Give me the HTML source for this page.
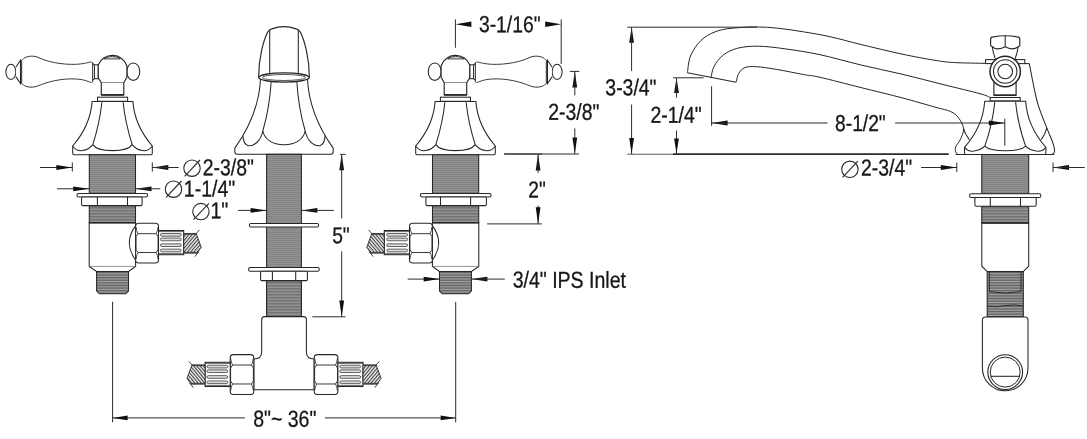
<!DOCTYPE html>
<html><head><meta charset="utf-8"><title>Faucet dimensions</title>
<style>
html,body{margin:0;padding:0;background:#fff;}
body{width:1088px;height:439px;overflow:hidden;position:relative;}
svg{position:absolute;left:0;top:0;display:block;}
text{font-family:"Liberation Sans",sans-serif;fill:#161616;stroke:#161616;stroke-width:0.3px;}
svg{will-change:transform;}
</style></head><body>
<svg width="1088" height="439" viewBox="0 0 1088 439">
<defs>
<pattern id="thr" width="4" height="2" patternUnits="userSpaceOnUse"><rect width="4" height="2" fill="#929292"/><rect y="0" width="4" height="1" fill="#838383"/></pattern>
<pattern id="thr3" width="4" height="1.5" patternUnits="userSpaceOnUse"><rect width="4" height="1.5" fill="#9a9a9a"/><rect y="0" width="4" height="0.75" fill="#6c6c6c"/></pattern>
<pattern id="thr2" width="4" height="1.62" patternUnits="userSpaceOnUse"><rect width="4" height="1.62" fill="#a2a2a2"/><rect y="0" width="4" height="0.8" fill="#5e5e5e"/></pattern>
<pattern id="hatm" width="2.5" height="2.5" patternUnits="userSpaceOnUse" patternTransform="rotate(-40)"><rect width="2.5" height="2.5" fill="#f4f4f4"/><rect width="1.1" height="2.5" fill="#3c3c3c"/></pattern>
<pattern id="hat" width="2.5" height="2.5" patternUnits="userSpaceOnUse" patternTransform="rotate(40)"><rect width="2.5" height="2.5" fill="#f4f4f4"/><rect width="1.1" height="2.5" fill="#3c3c3c"/></pattern>
</defs>
<rect x="0" y="0" width="1088" height="439" fill="#fff"/>
<rect x="1087" y="0" width="1" height="439" fill="#cfcfcf"/>

<g transform="translate(0.00,0)">
<ellipse cx="10.90" cy="71.90" rx="5.00" ry="7.60" fill="#fff" stroke="#262626" stroke-width="1.05"/>
<path d="M16.0,67.0 L20.5,60.2 L20.5,83.5 L16.0,76.9" fill="#fff" stroke="#262626" stroke-width="1.05" />
<line x1="21.70" y1="60.40" x2="21.70" y2="83.30" stroke="#262626" stroke-width="0.9"/>
<path d="M21.70,60.20 C22.42,59.70 24.27,57.88 26.00,57.20 C27.73,56.52 30.10,56.08 32.10,56.10 C34.10,56.12 35.83,56.62 38.00,57.30 C40.17,57.98 42.33,59.32 45.10,60.20 C47.87,61.08 51.18,61.95 54.60,62.60 C58.02,63.25 61.95,63.82 65.60,64.10 C69.25,64.38 73.32,64.43 76.50,64.30 C79.68,64.17 82.35,63.68 84.70,63.30 C87.05,62.92 89.28,62.12 90.60,62.00 C91.92,61.88 92.27,62.50 92.60,62.60 L92.60,81.80 C92.30,81.90 92.12,82.65 90.80,82.40 C89.48,82.15 87.08,80.87 84.70,80.30 C82.32,79.73 79.68,79.20 76.50,79.00 C73.32,78.80 69.25,78.82 65.60,79.10 C61.95,79.38 58.02,80.02 54.60,80.70 C51.18,81.38 47.87,82.33 45.10,83.20 C42.33,84.07 40.17,85.23 38.00,85.90 C35.83,86.57 34.10,87.13 32.10,87.20 C30.10,87.27 27.73,86.92 26.00,86.30 C24.27,85.68 22.42,83.97 21.70,83.50 Z" fill="#fff" stroke="#3a3a3a" stroke-width="1.0" />
<rect x="94.40" y="64.80" width="3.90" height="13.90" rx="0" fill="#fff" stroke="#262626" stroke-width="1.05"/>
<line x1="92.60" y1="63.50" x2="94.40" y2="64.80" stroke="#262626" stroke-width="1.05"/>
<line x1="92.60" y1="80.50" x2="94.40" y2="78.70" stroke="#262626" stroke-width="1.05"/>
<ellipse cx="133.30" cy="71.70" rx="6.50" ry="8.70" fill="#fff" stroke="#262626" stroke-width="1.05"/>
<path d="M98.3,64.8 A15.3,15.3 0 0 1 126.9,65.8 L126.9,77.4 L123.9,82.5 L101.2,82.5 L98.3,78.0 Z" fill="#fff" stroke="#262626" stroke-width="1.15" />
<path d="M104.1,58.9 L120.3,58.9" fill="none" stroke="#262626" stroke-width="0.9" />
<path d="M104.1,58.9 Q112.3,53.9 120.3,58.9" fill="#888" stroke="#262626" stroke-width="0.8" fill-opacity="0.35"/>
<path d="M101.3,82.5 L101.3,94.9 L123.8,94.9 L123.8,82.5" fill="#fff" stroke="#262626" stroke-width="1.15" />
<line x1="101.30" y1="94.90" x2="123.80" y2="94.90" stroke="#262626" stroke-width="1.6"/>
<rect x="97.50" y="97.20" width="30.10" height="4.10" rx="0" fill="#fff" stroke="#262626" stroke-width="1.05"/>
<path d="M92.10,101.40 C91.20,115.23 85.70,130.84 72.70,146.00 L72.70,153.20 Q72.70,154.70 74.20,154.70 L150.80,154.70 Q152.30,154.70 152.30,153.20 L152.30,146.00 C139.30,130.84 133.80,115.23 132.90,101.40 Z" fill="#fff" stroke="#262626" stroke-width="1.05" />
<path d="M101.90,102.20 Q99.70,123.00 92.80,144.60" fill="none" stroke="#262626" stroke-width="1.05" />
<path d="M123.10,102.20 Q125.30,123.00 132.20,144.60" fill="none" stroke="#262626" stroke-width="1.05" />
<path d="M92.80,144.60 C95.80,149.10 104.50,150.60 112.50,150.60 C120.50,150.60 129.20,149.10 132.20,144.60" fill="none" stroke="#262626" stroke-width="1.05" />
<path d="M72.7,146.0 C75.5,150.0 79,151.2 82.5,150.6 C86.5,150 90.5,147.5 92.8,144.6" fill="none" stroke="#262626" stroke-width="1.05" />
<path d="M152.3,146.0 C149.5,150.0 146,151.2 142.5,150.6 C138.5,150 134.5,147.5 132.2,144.6" fill="none" stroke="#262626" stroke-width="1.05" />
<rect x="89.30" y="154.70" width="46.20" height="38.70" fill="url(#thr)" stroke="#262626" stroke-width="1.05"/>
<rect x="89.30" y="205.60" width="46.20" height="17.20" fill="url(#thr3)" stroke="#262626" stroke-width="1.05"/>
<rect x="77.00" y="193.40" width="70.60" height="3.60" rx="1.5" fill="#fff" stroke="#262626" stroke-width="1.05"/>
<rect x="81.60" y="197.00" width="60.50" height="8.60" rx="1.2" fill="#fff" stroke="#262626" stroke-width="1.05"/>
<line x1="97.40" y1="197.00" x2="97.40" y2="205.60" stroke="#262626" stroke-width="1.05"/>
<line x1="127.50" y1="197.00" x2="127.50" y2="205.60" stroke="#262626" stroke-width="1.05"/>
<path d="M89.2,222.8 L89.2,266.4 L96.6,271.4 L128.5,271.4 L135.6,266.4 L135.6,222.8 Z" fill="#fff" stroke="#262626" stroke-width="1.05" />
<line x1="89.20" y1="266.40" x2="135.60" y2="266.40" stroke="#666" stroke-width="0.7"/>
<line x1="89.20" y1="222.80" x2="135.60" y2="222.80" stroke="#262626" stroke-width="1.3"/>
<path d="M96.6,271.4 L96.6,291.0 L99.4,293.8 L125.7,293.8 L128.5,291.0 L128.5,271.4 Z" fill="url(#thr2)" stroke="#262626" stroke-width="1.05" />
<path d="M135.6,225.6 Q123.0,242.8 135.6,260.0" fill="#fff" stroke="#262626" stroke-width="1.05" />
<rect x="135.60" y="223.30" width="22.90" height="39.60" rx="3.2" fill="#fff" stroke="#262626" stroke-width="1.05"/>
<path d="M138.00,233.68 L156.10,233.68 L158.10,236.68 L158.10,249.52 L156.10,252.52 L138.00,252.52 L136.00,249.52 L136.00,236.68 Z" fill="none" stroke="#262626" stroke-width="0.9" />
<path d="M138.00,233.68 Q136.40,231.18 136.10,227.00" fill="none" stroke="#262626" stroke-width="0.8" />
<path d="M156.10,233.68 Q157.70,231.18 158.00,227.00" fill="none" stroke="#262626" stroke-width="0.8" />
<path d="M138.00,252.52 Q136.40,255.02 136.10,259.20" fill="none" stroke="#262626" stroke-width="0.8" />
<path d="M156.10,252.52 Q157.70,255.02 158.00,259.20" fill="none" stroke="#262626" stroke-width="0.8" />
<rect x="158.50" y="230.50" width="25.20" height="24.20" rx="0" fill="#fff" stroke="#262626" stroke-width="1.05"/>
<line x1="158.50" y1="231.60" x2="183.70" y2="231.60" stroke="#262626" stroke-width="0.7"/>
<line x1="158.50" y1="253.60" x2="183.70" y2="253.60" stroke="#262626" stroke-width="0.7"/>
<rect x="160.40" y="233.46" width="20.90" height="2.7" rx="1.35" fill="#dcdcdc" stroke="#3c3c3c" stroke-width="0.8"/>
<rect x="160.40" y="238.06" width="20.90" height="2.7" rx="1.35" fill="#dcdcdc" stroke="#3c3c3c" stroke-width="0.8"/>
<rect x="160.40" y="243.84" width="20.90" height="2.7" rx="1.35" fill="#dcdcdc" stroke="#3c3c3c" stroke-width="0.8"/>
<rect x="160.40" y="249.14" width="20.90" height="2.7" rx="1.35" fill="#dcdcdc" stroke="#3c3c3c" stroke-width="0.8"/>
<path d="M183.70,233.60 L196.20,233.60 L201.20,247.18 L197.20,253.00 L183.70,253.00 Z" fill="url(#hat)" stroke="#262626" stroke-width="0.9" />
<line x1="183.70" y1="234.00" x2="196.20" y2="234.00" stroke="#444" stroke-width="1.5"/>
<line x1="183.70" y1="252.60" x2="197.20" y2="252.60" stroke="#444" stroke-width="1.5"/>
<line x1="195.40" y1="234.40" x2="199.40" y2="230.00" stroke="#262626" stroke-width="0.9"/>
<line x1="198.80" y1="251.80" x2="194.80" y2="256.60" stroke="#262626" stroke-width="0.9"/>
</g>
<g transform="translate(568,0) scale(-1,1)">
<g transform="translate(0.00,0)">
<ellipse cx="10.90" cy="71.90" rx="5.00" ry="7.60" fill="#fff" stroke="#262626" stroke-width="1.05"/>
<path d="M16.0,67.0 L20.5,60.2 L20.5,83.5 L16.0,76.9" fill="#fff" stroke="#262626" stroke-width="1.05" />
<line x1="21.70" y1="60.40" x2="21.70" y2="83.30" stroke="#262626" stroke-width="0.9"/>
<path d="M21.70,60.20 C22.42,59.70 24.27,57.88 26.00,57.20 C27.73,56.52 30.10,56.08 32.10,56.10 C34.10,56.12 35.83,56.62 38.00,57.30 C40.17,57.98 42.33,59.32 45.10,60.20 C47.87,61.08 51.18,61.95 54.60,62.60 C58.02,63.25 61.95,63.82 65.60,64.10 C69.25,64.38 73.32,64.43 76.50,64.30 C79.68,64.17 82.35,63.68 84.70,63.30 C87.05,62.92 89.28,62.12 90.60,62.00 C91.92,61.88 92.27,62.50 92.60,62.60 L92.60,81.80 C92.30,81.90 92.12,82.65 90.80,82.40 C89.48,82.15 87.08,80.87 84.70,80.30 C82.32,79.73 79.68,79.20 76.50,79.00 C73.32,78.80 69.25,78.82 65.60,79.10 C61.95,79.38 58.02,80.02 54.60,80.70 C51.18,81.38 47.87,82.33 45.10,83.20 C42.33,84.07 40.17,85.23 38.00,85.90 C35.83,86.57 34.10,87.13 32.10,87.20 C30.10,87.27 27.73,86.92 26.00,86.30 C24.27,85.68 22.42,83.97 21.70,83.50 Z" fill="#fff" stroke="#3a3a3a" stroke-width="1.0" />
<rect x="94.40" y="64.80" width="3.90" height="13.90" rx="0" fill="#fff" stroke="#262626" stroke-width="1.05"/>
<line x1="92.60" y1="63.50" x2="94.40" y2="64.80" stroke="#262626" stroke-width="1.05"/>
<line x1="92.60" y1="80.50" x2="94.40" y2="78.70" stroke="#262626" stroke-width="1.05"/>
<ellipse cx="133.30" cy="71.70" rx="6.50" ry="8.70" fill="#fff" stroke="#262626" stroke-width="1.05"/>
<path d="M98.3,64.8 A15.3,15.3 0 0 1 126.9,65.8 L126.9,77.4 L123.9,82.5 L101.2,82.5 L98.3,78.0 Z" fill="#fff" stroke="#262626" stroke-width="1.15" />
<path d="M104.1,58.9 L120.3,58.9" fill="none" stroke="#262626" stroke-width="0.9" />
<path d="M104.1,58.9 Q112.3,53.9 120.3,58.9" fill="#888" stroke="#262626" stroke-width="0.8" fill-opacity="0.35"/>
<path d="M101.3,82.5 L101.3,94.9 L123.8,94.9 L123.8,82.5" fill="#fff" stroke="#262626" stroke-width="1.15" />
<line x1="101.30" y1="94.90" x2="123.80" y2="94.90" stroke="#262626" stroke-width="1.6"/>
<rect x="97.50" y="97.20" width="30.10" height="4.10" rx="0" fill="#fff" stroke="#262626" stroke-width="1.05"/>
<path d="M92.10,101.40 C91.20,115.23 85.70,130.84 72.70,146.00 L72.70,153.20 Q72.70,154.70 74.20,154.70 L150.80,154.70 Q152.30,154.70 152.30,153.20 L152.30,146.00 C139.30,130.84 133.80,115.23 132.90,101.40 Z" fill="#fff" stroke="#262626" stroke-width="1.05" />
<path d="M101.90,102.20 Q99.70,123.00 92.80,144.60" fill="none" stroke="#262626" stroke-width="1.05" />
<path d="M123.10,102.20 Q125.30,123.00 132.20,144.60" fill="none" stroke="#262626" stroke-width="1.05" />
<path d="M92.80,144.60 C95.80,149.10 104.50,150.60 112.50,150.60 C120.50,150.60 129.20,149.10 132.20,144.60" fill="none" stroke="#262626" stroke-width="1.05" />
<path d="M72.7,146.0 C75.5,150.0 79,151.2 82.5,150.6 C86.5,150 90.5,147.5 92.8,144.6" fill="none" stroke="#262626" stroke-width="1.05" />
<path d="M152.3,146.0 C149.5,150.0 146,151.2 142.5,150.6 C138.5,150 134.5,147.5 132.2,144.6" fill="none" stroke="#262626" stroke-width="1.05" />
<rect x="89.30" y="154.70" width="46.20" height="38.70" fill="url(#thr)" stroke="#262626" stroke-width="1.05"/>
<rect x="89.30" y="205.60" width="46.20" height="17.20" fill="url(#thr3)" stroke="#262626" stroke-width="1.05"/>
<rect x="77.00" y="193.40" width="70.60" height="3.60" rx="1.5" fill="#fff" stroke="#262626" stroke-width="1.05"/>
<rect x="81.60" y="197.00" width="60.50" height="8.60" rx="1.2" fill="#fff" stroke="#262626" stroke-width="1.05"/>
<line x1="97.40" y1="197.00" x2="97.40" y2="205.60" stroke="#262626" stroke-width="1.05"/>
<line x1="127.50" y1="197.00" x2="127.50" y2="205.60" stroke="#262626" stroke-width="1.05"/>
<path d="M89.2,222.8 L89.2,266.4 L96.6,271.4 L128.5,271.4 L135.6,266.4 L135.6,222.8 Z" fill="#fff" stroke="#262626" stroke-width="1.05" />
<line x1="89.20" y1="266.40" x2="135.60" y2="266.40" stroke="#666" stroke-width="0.7"/>
<line x1="89.20" y1="222.80" x2="135.60" y2="222.80" stroke="#262626" stroke-width="1.3"/>
<path d="M96.6,271.4 L96.6,291.0 L99.4,293.8 L125.7,293.8 L128.5,291.0 L128.5,271.4 Z" fill="url(#thr2)" stroke="#262626" stroke-width="1.05" />
<path d="M135.6,225.6 Q123.0,242.8 135.6,260.0" fill="#fff" stroke="#262626" stroke-width="1.05" />
<rect x="135.60" y="223.30" width="22.90" height="39.60" rx="3.2" fill="#fff" stroke="#262626" stroke-width="1.05"/>
<path d="M138.00,233.68 L156.10,233.68 L158.10,236.68 L158.10,249.52 L156.10,252.52 L138.00,252.52 L136.00,249.52 L136.00,236.68 Z" fill="none" stroke="#262626" stroke-width="0.9" />
<path d="M138.00,233.68 Q136.40,231.18 136.10,227.00" fill="none" stroke="#262626" stroke-width="0.8" />
<path d="M156.10,233.68 Q157.70,231.18 158.00,227.00" fill="none" stroke="#262626" stroke-width="0.8" />
<path d="M138.00,252.52 Q136.40,255.02 136.10,259.20" fill="none" stroke="#262626" stroke-width="0.8" />
<path d="M156.10,252.52 Q157.70,255.02 158.00,259.20" fill="none" stroke="#262626" stroke-width="0.8" />
<rect x="158.50" y="230.50" width="25.20" height="24.20" rx="0" fill="#fff" stroke="#262626" stroke-width="1.05"/>
<line x1="158.50" y1="231.60" x2="183.70" y2="231.60" stroke="#262626" stroke-width="0.7"/>
<line x1="158.50" y1="253.60" x2="183.70" y2="253.60" stroke="#262626" stroke-width="0.7"/>
<rect x="160.40" y="233.46" width="20.90" height="2.7" rx="1.35" fill="#dcdcdc" stroke="#3c3c3c" stroke-width="0.8"/>
<rect x="160.40" y="238.06" width="20.90" height="2.7" rx="1.35" fill="#dcdcdc" stroke="#3c3c3c" stroke-width="0.8"/>
<rect x="160.40" y="243.84" width="20.90" height="2.7" rx="1.35" fill="#dcdcdc" stroke="#3c3c3c" stroke-width="0.8"/>
<rect x="160.40" y="249.14" width="20.90" height="2.7" rx="1.35" fill="#dcdcdc" stroke="#3c3c3c" stroke-width="0.8"/>
<path d="M183.70,233.60 L196.20,233.60 L201.20,247.18 L197.20,253.00 L183.70,253.00 Z" fill="url(#hat)" stroke="#262626" stroke-width="0.9" />
<line x1="183.70" y1="234.00" x2="196.20" y2="234.00" stroke="#444" stroke-width="1.5"/>
<line x1="183.70" y1="252.60" x2="197.20" y2="252.60" stroke="#444" stroke-width="1.5"/>
<line x1="195.40" y1="234.40" x2="199.40" y2="230.00" stroke="#262626" stroke-width="0.9"/>
<line x1="198.80" y1="251.80" x2="194.80" y2="256.60" stroke="#262626" stroke-width="0.9"/>
</g>
</g>
<path d="M258.6,77.4 C258.6,59 263.2,41.5 267.4,32.6 Q268.8,29.7 271.8,28.9 Q284,24.5 296.2,28.9 Q299.2,29.7 300.6,32.6 C304.8,41.5 309.4,59 309.4,77.4 Z" fill="#fff" stroke="#262626" stroke-width="1.15" />
<line x1="269.70" y1="30.40" x2="269.70" y2="74.00" stroke="#262626" stroke-width="1.05"/>
<line x1="298.30" y1="30.40" x2="298.30" y2="74.00" stroke="#262626" stroke-width="1.05"/>
<path d="M260.5,79.0 C259.5,100 252,124 234.8,148.1 L234.8,151.8 Q234.8,154.3 237.3,154.3 L330.7,154.3 Q333.2,154.3 333.2,151.8 L333.2,148.1 C316,124 308.5,100 307.5,79.0 Z" fill="#fff" stroke="#262626" stroke-width="1.05" />
<path d="M271.2,81.0 Q269.6,108 262.8,131.0" fill="none" stroke="#262626" stroke-width="1.05" />
<path d="M296.8,81.0 Q298.4,108 305.2,131.0" fill="none" stroke="#262626" stroke-width="1.05" />
<path d="M262.8,131.0 C264.5,139 272,144.7 284,144.7 C296,144.7 303.5,139 305.2,131.0" fill="none" stroke="#262626" stroke-width="1.05" />
<path d="M262.8,131.0 C261,140 255,146.2 248.5,145.8 C245,145.2 243.2,141 242.9,135.6" fill="none" stroke="#262626" stroke-width="1.05" />
<path d="M305.2,131.0 C307,140 313,146.2 319.5,145.8 C323,145.2 324.8,141 325.1,135.6" fill="none" stroke="#262626" stroke-width="1.05" />
<ellipse cx="284.00" cy="77.50" rx="25.20" ry="4.60" fill="#fff" stroke="#262626" stroke-width="1.3"/>
<ellipse cx="284.00" cy="77.50" rx="21.60" ry="3.00" fill="#fff" stroke="#444" stroke-width="0.9"/>
<rect x="266.60" y="154.30" width="34.80" height="162.20" fill="url(#thr)" stroke="#262626" stroke-width="1.05"/>
<rect x="266.60" y="280.60" width="34.80" height="35.90" fill="url(#thr3)" stroke="#262626" stroke-width="1.05"/>
<rect x="249.50" y="223.40" width="69.00" height="3.60" rx="1.2" fill="#fff" stroke="#262626" stroke-width="1.05"/>
<rect x="248.60" y="267.40" width="70.60" height="3.80" rx="1.5" fill="#fff" stroke="#262626" stroke-width="1.05"/>
<rect x="260.60" y="271.20" width="46.80" height="9.40" rx="1.2" fill="#fff" stroke="#262626" stroke-width="1.05"/>
<line x1="272.40" y1="271.20" x2="272.40" y2="280.60" stroke="#262626" stroke-width="1.05"/>
<line x1="295.70" y1="271.20" x2="295.70" y2="280.60" stroke="#262626" stroke-width="1.05"/>
<path d="M253.8,359.0 Q261.7,359.0 261.7,352.0 L261.7,319.6 Q261.7,316.6 264.7,316.6 L303.4,316.6 Q306.4,316.6 306.4,319.6 L306.4,352.0 Q306.4,359.0 314.2,359.0 L314.2,389.7 L253.8,389.7 Z" fill="#fff" stroke="#262626" stroke-width="1.05" />
<rect x="230.20" y="354.60" width="23.60" height="39.80" rx="3.2" fill="#fff" stroke="#262626" stroke-width="1.05"/>
<path d="M232.60,365.03 L251.40,365.03 L253.40,368.03 L253.40,380.97 L251.40,383.97 L232.60,383.97 L230.60,380.97 L230.60,368.03 Z" fill="none" stroke="#262626" stroke-width="0.9" />
<path d="M232.60,365.03 Q231.00,362.53 230.70,358.30" fill="none" stroke="#262626" stroke-width="0.8" />
<path d="M251.40,365.03 Q253.00,362.53 253.30,358.30" fill="none" stroke="#262626" stroke-width="0.8" />
<path d="M232.60,383.97 Q231.00,386.47 230.70,390.70" fill="none" stroke="#262626" stroke-width="0.8" />
<path d="M251.40,383.97 Q253.00,386.47 253.30,390.70" fill="none" stroke="#262626" stroke-width="0.8" />
<rect x="314.20" y="354.60" width="23.70" height="39.80" rx="3.2" fill="#fff" stroke="#262626" stroke-width="1.05"/>
<path d="M316.60,365.03 L335.50,365.03 L337.50,368.03 L337.50,380.97 L335.50,383.97 L316.60,383.97 L314.60,380.97 L314.60,368.03 Z" fill="none" stroke="#262626" stroke-width="0.9" />
<path d="M316.60,365.03 Q315.00,362.53 314.70,358.30" fill="none" stroke="#262626" stroke-width="0.8" />
<path d="M335.50,365.03 Q337.10,362.53 337.40,358.30" fill="none" stroke="#262626" stroke-width="0.8" />
<path d="M316.60,383.97 Q315.00,386.47 314.70,390.70" fill="none" stroke="#262626" stroke-width="0.8" />
<path d="M335.50,383.97 Q337.10,386.47 337.40,390.70" fill="none" stroke="#262626" stroke-width="0.8" />
<rect x="205.10" y="362.30" width="25.10" height="24.20" rx="0" fill="#fff" stroke="#262626" stroke-width="1.05"/>
<line x1="205.10" y1="363.40" x2="230.20" y2="363.40" stroke="#262626" stroke-width="0.7"/>
<line x1="205.10" y1="385.40" x2="230.20" y2="385.40" stroke="#262626" stroke-width="0.7"/>
<rect x="207.00" y="365.26" width="20.80" height="2.7" rx="1.35" fill="#dcdcdc" stroke="#3c3c3c" stroke-width="0.8"/>
<rect x="207.00" y="369.86" width="20.80" height="2.7" rx="1.35" fill="#dcdcdc" stroke="#3c3c3c" stroke-width="0.8"/>
<rect x="207.00" y="375.64" width="20.80" height="2.7" rx="1.35" fill="#dcdcdc" stroke="#3c3c3c" stroke-width="0.8"/>
<rect x="207.00" y="380.94" width="20.80" height="2.7" rx="1.35" fill="#dcdcdc" stroke="#3c3c3c" stroke-width="0.8"/>
<rect x="337.90" y="362.30" width="25.10" height="24.20" rx="0" fill="#fff" stroke="#262626" stroke-width="1.05"/>
<line x1="337.90" y1="363.40" x2="363.00" y2="363.40" stroke="#262626" stroke-width="0.7"/>
<line x1="337.90" y1="385.40" x2="363.00" y2="385.40" stroke="#262626" stroke-width="0.7"/>
<rect x="339.80" y="365.26" width="20.80" height="2.7" rx="1.35" fill="#dcdcdc" stroke="#3c3c3c" stroke-width="0.8"/>
<rect x="339.80" y="369.86" width="20.80" height="2.7" rx="1.35" fill="#dcdcdc" stroke="#3c3c3c" stroke-width="0.8"/>
<rect x="339.80" y="375.64" width="20.80" height="2.7" rx="1.35" fill="#dcdcdc" stroke="#3c3c3c" stroke-width="0.8"/>
<rect x="339.80" y="380.94" width="20.80" height="2.7" rx="1.35" fill="#dcdcdc" stroke="#3c3c3c" stroke-width="0.8"/>
<path d="M205.10,365.00 L192.00,365.00 L187.00,378.30 L191.00,384.00 L205.10,384.00 Z" fill="url(#hatm)" stroke="#262626" stroke-width="0.9" />
<line x1="205.10" y1="365.40" x2="192.00" y2="365.40" stroke="#444" stroke-width="1.5"/>
<line x1="205.10" y1="383.60" x2="191.00" y2="383.60" stroke="#444" stroke-width="1.5"/>
<line x1="192.80" y1="365.80" x2="188.80" y2="361.40" stroke="#262626" stroke-width="0.9"/>
<line x1="189.40" y1="382.80" x2="193.40" y2="387.60" stroke="#262626" stroke-width="0.9"/>
<path d="M363.00,365.00 L376.10,365.00 L381.10,378.30 L377.10,384.00 L363.00,384.00 Z" fill="url(#hat)" stroke="#262626" stroke-width="0.9" />
<line x1="363.00" y1="365.40" x2="376.10" y2="365.40" stroke="#444" stroke-width="1.5"/>
<line x1="363.00" y1="383.60" x2="377.10" y2="383.60" stroke="#444" stroke-width="1.5"/>
<line x1="375.30" y1="365.80" x2="379.30" y2="361.40" stroke="#262626" stroke-width="0.9"/>
<line x1="378.70" y1="382.80" x2="374.70" y2="387.60" stroke="#262626" stroke-width="0.9"/>
<line x1="40.00" y1="167.50" x2="72.30" y2="167.50" stroke="#2c2c2c" stroke-width="1.0"/>
<polygon points="72.30,167.50 56.30,169.90 56.30,165.10" fill="#101010"/>
<line x1="72.30" y1="162.40" x2="72.30" y2="171.60" stroke="#2c2c2c" stroke-width="1.0"/>
<line x1="152.30" y1="162.40" x2="152.30" y2="171.60" stroke="#2c2c2c" stroke-width="1.0"/>
<polygon points="152.30,167.50 168.30,165.10 168.30,169.90" fill="#101010"/>
<line x1="152.30" y1="167.50" x2="178.70" y2="167.50" stroke="#2c2c2c" stroke-width="1.0"/>
<line x1="57.00" y1="188.80" x2="89.20" y2="188.80" stroke="#2c2c2c" stroke-width="1.0"/>
<polygon points="89.20,188.80 73.20,191.20 73.20,186.40" fill="#101010"/>
<polygon points="135.50,188.80 151.50,186.40 151.50,191.20" fill="#101010"/>
<line x1="135.50" y1="188.80" x2="160.30" y2="188.80" stroke="#2c2c2c" stroke-width="1.0"/>
<line x1="238.10" y1="210.40" x2="266.60" y2="210.40" stroke="#2c2c2c" stroke-width="1.0"/>
<polygon points="266.60,210.40 250.60,212.80 250.60,208.00" fill="#101010"/>
<polygon points="301.40,210.40 317.40,208.00 317.40,212.80" fill="#101010"/>
<line x1="301.40" y1="210.40" x2="333.80" y2="210.40" stroke="#2c2c2c" stroke-width="1.0"/>
<line x1="340.20" y1="154.40" x2="345.60" y2="154.40" stroke="#2c2c2c" stroke-width="1.0"/>
<polygon points="341.70,154.20 344.10,170.20 339.30,170.20" fill="#101010"/>
<line x1="341.70" y1="154.20" x2="341.70" y2="218.40" stroke="#2c2c2c" stroke-width="1.0"/>
<line x1="341.70" y1="251.40" x2="341.70" y2="316.50" stroke="#2c2c2c" stroke-width="1.0"/>
<polygon points="341.70,316.50 339.30,300.50 344.10,300.50" fill="#101010"/>
<line x1="312.30" y1="316.80" x2="345.40" y2="316.80" stroke="#2c2c2c" stroke-width="1.0"/>
<line x1="112.60" y1="301.80" x2="112.60" y2="422.30" stroke="#2c2c2c" stroke-width="1.0"/>
<line x1="455.70" y1="301.80" x2="455.70" y2="422.30" stroke="#2c2c2c" stroke-width="1.0"/>
<line x1="112.60" y1="417.90" x2="245.00" y2="417.90" stroke="#2c2c2c" stroke-width="1.0"/>
<polygon points="112.60,417.90 127.60,415.50 127.60,420.30" fill="#101010"/>
<line x1="324.80" y1="417.90" x2="455.70" y2="417.90" stroke="#2c2c2c" stroke-width="1.0"/>
<polygon points="455.70,417.90 440.70,420.30 440.70,415.50" fill="#101010"/>
<line x1="455.40" y1="19.40" x2="455.40" y2="47.80" stroke="#2c2c2c" stroke-width="1.0"/>
<line x1="561.20" y1="19.40" x2="561.20" y2="63.90" stroke="#2c2c2c" stroke-width="1.0"/>
<polygon points="455.40,24.30 471.40,21.60 471.40,27.00" fill="#101010"/>
<polygon points="561.20,24.30 545.20,27.00 545.20,21.60" fill="#101010"/>
<line x1="569.80" y1="71.40" x2="579.30" y2="71.40" stroke="#2c2c2c" stroke-width="1.0"/>
<polygon points="574.80,71.40 577.20,87.40 572.40,87.40" fill="#101010"/>
<line x1="574.80" y1="71.40" x2="574.80" y2="95.30" stroke="#2c2c2c" stroke-width="1.0"/>
<line x1="574.80" y1="128.40" x2="574.80" y2="153.60" stroke="#2c2c2c" stroke-width="1.0"/>
<polygon points="574.80,153.60 572.40,137.60 577.20,137.60" fill="#101010"/>
<line x1="504.10" y1="154.00" x2="542.00" y2="154.00" stroke="#2c2c2c" stroke-width="1.7"/>
<line x1="542.00" y1="154.00" x2="579.00" y2="154.00" stroke="#2c2c2c" stroke-width="1.0"/>
<polygon points="538.10,154.20 540.50,170.40 535.70,170.40" fill="#101010"/>
<line x1="538.10" y1="154.20" x2="538.10" y2="172.80" stroke="#2c2c2c" stroke-width="1.0"/>
<line x1="538.10" y1="205.60" x2="538.10" y2="223.80" stroke="#2c2c2c" stroke-width="1.0"/>
<polygon points="538.10,223.80 535.70,207.20 540.50,207.20" fill="#101010"/>
<line x1="487.10" y1="223.90" x2="541.90" y2="223.90" stroke="#2c2c2c" stroke-width="1.0"/>
<line x1="407.70" y1="279.10" x2="439.70" y2="279.10" stroke="#2c2c2c" stroke-width="1.0"/>
<polygon points="439.70,279.10 423.70,281.50 423.70,276.70" fill="#101010"/>
<polygon points="471.40,279.10 487.40,276.70 487.40,281.50" fill="#101010"/>
<line x1="471.40" y1="279.10" x2="504.80" y2="279.10" stroke="#2c2c2c" stroke-width="1.0"/>
<path d="M687.40,72.80 C687.92,70.00 688.27,61.37 690.50,56.00 C692.73,50.63 696.70,44.63 700.80,40.60 C704.90,36.57 709.98,33.85 715.10,31.80 C720.22,29.75 724.65,29.12 731.50,28.30 C738.35,27.48 748.33,26.90 756.20,26.90 C764.07,26.90 770.85,27.48 778.70,28.30 C786.55,29.12 794.75,30.40 803.30,31.80 C811.85,33.20 820.38,34.58 830.00,36.70 C839.62,38.82 849.00,41.60 861.00,44.50 C873.00,47.40 889.68,51.47 902.00,54.10 C914.32,56.73 926.35,58.90 934.90,60.30 C943.45,61.70 944.85,61.98 953.30,62.50 C961.75,63.02 980.22,63.25 985.60,63.40 L990,97 L1030,63.6 L1054,154.5 L958,154.5 L958.00,154.50 L955.60,151.80 L955.80,146.60 L960.30,139.60 L963.60,128.70 L958.50,117.80 L950.50,111.50 L934.90,107.10 L902.00,97.80 L861.00,87.60 L820.00,77.30 L803.30,74.50 L776.70,69.40 L756.20,66.70 L744.90,67.60 L738.70,73.50 L736.10,82.30 Z" fill="#fff" stroke="none"/>
<path d="M687.40,72.80 C687.92,70.00 688.27,61.37 690.50,56.00 C692.73,50.63 696.70,44.63 700.80,40.60 C704.90,36.57 709.98,33.85 715.10,31.80 C720.22,29.75 724.65,29.12 731.50,28.30 C738.35,27.48 748.33,26.90 756.20,26.90 C764.07,26.90 770.85,27.48 778.70,28.30 C786.55,29.12 794.75,30.40 803.30,31.80 C811.85,33.20 820.38,34.58 830.00,36.70 C839.62,38.82 849.00,41.60 861.00,44.50 C873.00,47.40 889.68,51.47 902.00,54.10 C914.32,56.73 926.35,58.90 934.90,60.30 C943.45,61.70 944.85,61.98 953.30,62.50 C961.75,63.02 980.22,63.25 985.60,63.40" fill="none" stroke="#262626" stroke-width="1.0" />
<path d="M711.00,77.60 C711.52,75.72 712.05,70.07 714.10,66.30 C716.15,62.53 719.37,58.02 723.30,55.00 C727.23,51.98 731.88,49.67 737.70,48.20 C743.52,46.73 750.33,46.10 758.20,46.20 C766.07,46.30 774.60,47.38 784.90,48.80 C795.20,50.22 807.32,52.00 820.00,54.70 C832.68,57.40 847.33,61.75 861.00,65.00 C874.67,68.25 888.33,70.95 902.00,74.20 C915.67,77.45 930.00,81.25 943.00,84.50 C956.00,87.75 972.13,91.53 980.00,93.70 C987.87,95.87 988.50,96.87 990.20,97.50" fill="none" stroke="#262626" stroke-width="1.0" />
<path d="M736.10,82.30 C736.53,80.83 737.23,75.95 738.70,73.50 C740.17,71.05 741.98,68.73 744.90,67.60 C747.82,66.47 750.90,66.40 756.20,66.70 C761.50,67.00 768.85,68.10 776.70,69.40 C784.55,70.70 796.08,73.18 803.30,74.50 C810.52,75.82 810.38,75.12 820.00,77.30 C829.62,79.48 847.33,84.18 861.00,87.60 C874.67,91.02 889.68,94.55 902.00,97.80 C914.32,101.05 926.82,104.82 934.90,107.10 C942.98,109.38 946.57,109.72 950.50,111.50 C954.43,113.28 956.32,114.93 958.50,117.80 C960.68,120.67 963.30,125.07 963.60,128.70 C963.90,132.33 961.60,136.62 960.30,139.60 C959.00,142.58 956.58,144.57 955.80,146.60 C955.02,148.63 955.23,150.48 955.60,151.80 C955.97,153.12 957.60,154.05 958.00,154.50" fill="none" stroke="#262626" stroke-width="1.0" />
<line x1="687.40" y1="72.80" x2="736.10" y2="82.30" stroke="#262626" stroke-width="1.05"/>
<path d="M1024.8,63.6 L1029.3,63.6" fill="none" stroke="#262626" stroke-width="1.05" />
<path d="M1029.30,63.60 C1030.17,68.00 1032.95,82.87 1034.50,90.00 C1036.05,97.13 1036.55,100.08 1038.60,106.40 C1040.65,112.72 1044.40,121.75 1046.80,127.90 C1049.20,134.05 1051.70,139.42 1053.00,143.30 C1054.30,147.18 1054.72,149.33 1054.60,151.20 C1054.48,153.07 1052.68,153.95 1052.30,154.50" fill="none" stroke="#262626" stroke-width="1.05" />
<path d="M1046.8,127.9 Q1045.5,134 1041.2,139.6" fill="none" stroke="#262626" stroke-width="1.05" />
<path d="M963.6,128.7 Q965,134.5 969.3,139.6" fill="none" stroke="#262626" stroke-width="1.05" />
<g transform="translate(0,1)">
<path d="M990.6,38.2 Q990.6,36.0 993.2,35.9 Q1005.2,33.6 1017.2,35.9 Q1019.8,36.0 1019.8,38.2 L1019.8,44.6 Q1013.5,50.4 1005.2,45.8 Q997,50.4 990.6,44.6 Z" fill="#fff" stroke="#262626" stroke-width="1.15" />
<line x1="1005.20" y1="35.00" x2="1005.20" y2="45.80" stroke="#262626" stroke-width="1.05"/>
</g>
<path d="M992.2,46.2 Q993.0,53 995.6,59.6" fill="none" stroke="#262626" stroke-width="1.05" />
<path d="M1018.2,46.2 Q1017.4,53 1014.8,59.6" fill="none" stroke="#262626" stroke-width="1.05" />
<rect x="985.60" y="59.60" width="39.20" height="4.00" rx="0" fill="#fff" stroke="#262626" stroke-width="1.05"/>
<path d="M993.9,75 L993.9,95.2 L1016.1,95.2 L1016.1,75" fill="#fff" stroke="#262626" stroke-width="1.15" />
<line x1="993.90" y1="95.20" x2="1016.10" y2="95.20" stroke="#262626" stroke-width="1.6"/>
<circle cx="1005.2" cy="71.5" r="15.2" fill="#fff" stroke="#262626" stroke-width="1.5"/>
<circle cx="1005.2" cy="71.5" r="11.7" fill="none" stroke="#262626" stroke-width="1.05"/>
<circle cx="1005.2" cy="71.5" r="7.3" fill="none" stroke="#262626" stroke-width="1.05"/>
<rect x="990.20" y="97.50" width="30.00" height="3.40" rx="0" fill="#fff" stroke="#262626" stroke-width="1.05"/>
<path d="M984.70,101.30 C983.80,115.59 978.30,131.73 964.50,147.40 L964.50,153.00 Q964.50,154.50 966.00,154.50 L1044.40,154.50 Q1045.90,154.50 1045.90,153.00 L1045.90,147.40 C1032.10,131.73 1026.60,115.59 1025.70,101.30 Z" fill="#fff" stroke="#262626" stroke-width="1.05" />
<path d="M994.80,102.10 Q992.60,123.75 984.80,146.20" fill="none" stroke="#262626" stroke-width="1.05" />
<path d="M1015.60,102.10 Q1017.80,123.75 1025.60,146.20" fill="none" stroke="#262626" stroke-width="1.05" />
<path d="M984.80,146.20 C987.80,149.30 997.20,150.80 1005.20,150.80 C1013.20,150.80 1022.60,149.30 1025.60,146.20" fill="none" stroke="#262626" stroke-width="1.05" />
<path d="M964.5,147.4 C967,150.6 970.5,151.6 974,151.1 C978,150.4 982.5,148.6 984.8,146.2" fill="none" stroke="#262626" stroke-width="1.05" />
<path d="M1045.9,147.4 C1043.4,150.6 1039.9,151.6 1036.4,151.1 C1032.4,150.4 1027.9,148.6 1025.6,146.2" fill="none" stroke="#262626" stroke-width="1.05" />
<line x1="955.60" y1="154.50" x2="1054.20" y2="154.50" stroke="#262626" stroke-width="1.2"/>
<rect x="981.80" y="154.50" width="46.90" height="39.30" fill="url(#thr)" stroke="#262626" stroke-width="1.05"/>
<rect x="981.80" y="206.20" width="46.90" height="16.80" fill="url(#thr3)" stroke="#262626" stroke-width="1.05"/>
<rect x="969.60" y="193.80" width="71.20" height="3.60" rx="1.5" fill="#fff" stroke="#262626" stroke-width="1.05"/>
<rect x="974.90" y="197.40" width="61.30" height="8.80" rx="1.2" fill="#fff" stroke="#262626" stroke-width="1.05"/>
<line x1="990.30" y1="197.40" x2="990.30" y2="206.20" stroke="#262626" stroke-width="1.05"/>
<line x1="1020.50" y1="197.40" x2="1020.50" y2="206.20" stroke="#262626" stroke-width="1.05"/>
<path d="M981.8,223.0 L981.8,266.2 L987.2,271.5 L1023.3,271.5 L1028.7,266.2 L1028.7,223.0 Z" fill="#fff" stroke="#262626" stroke-width="1.05" />
<line x1="981.80" y1="223.00" x2="1028.70" y2="223.00" stroke="#262626" stroke-width="1.3"/>
<rect x="987.20" y="271.50" width="36.10" height="45.30" fill="url(#thr2)" stroke="#262626" stroke-width="1.05"/>
<path d="M989.4,271.5 L989.4,291.6 Q1005.2,294.6 1021.0,291.6 L1021.0,271.5" fill="none" stroke="#262626" stroke-width="0.9" />
<path d="M987.2,306.0 Q996,307.5 1005.2,305.6 Q1014,304.2 1023.3,306.0" fill="none" stroke="#262626" stroke-width="0.9" />
<path d="M982.4,367.90 L982.4,320.0 Q982.4,316.9 985.5,316.9 L1024.9,316.9 Q1028.0,316.9 1028.0,320.0 L1028.0,367.90 A22.80,22.80 0 0 1 982.4,367.90 Z" fill="#fff" stroke="#262626" stroke-width="1.05" />
<circle cx="1005.2" cy="372.1" r="17.4" fill="#fff" stroke="#262626" stroke-width="1.1"/>
<circle cx="1005.2" cy="372.1" r="15.0" fill="none" stroke="#262626" stroke-width="1.0"/>
<line x1="990.70" y1="376.30" x2="1019.70" y2="376.30" stroke="#262626" stroke-width="1.05"/>
<line x1="627.30" y1="27.20" x2="757.00" y2="27.20" stroke="#2c2c2c" stroke-width="1.0"/>
<line x1="627.30" y1="154.20" x2="673.00" y2="154.20" stroke="#5a5a5a" stroke-width="1.1"/>
<line x1="673.00" y1="154.20" x2="948.80" y2="154.20" stroke="#2c2c2c" stroke-width="1.7"/>
<polygon points="631.60,27.20 634.00,42.70 629.20,42.70" fill="#101010"/>
<line x1="631.60" y1="27.20" x2="631.60" y2="71.00" stroke="#2c2c2c" stroke-width="1.0"/>
<line x1="631.60" y1="104.50" x2="631.60" y2="154.00" stroke="#2c2c2c" stroke-width="1.0"/>
<polygon points="631.60,153.60 629.20,138.10 634.00,138.10" fill="#101010"/>
<line x1="673.20" y1="77.80" x2="703.60" y2="77.80" stroke="#2c2c2c" stroke-width="1.0"/>
<polygon points="676.50,77.80 678.90,93.00 674.10,93.00" fill="#101010"/>
<line x1="676.50" y1="77.80" x2="676.50" y2="97.70" stroke="#2c2c2c" stroke-width="1.0"/>
<line x1="676.50" y1="130.50" x2="676.50" y2="154.00" stroke="#2c2c2c" stroke-width="1.0"/>
<polygon points="676.50,153.60 674.10,138.40 678.90,138.40" fill="#101010"/>
<line x1="711.60" y1="86.20" x2="711.60" y2="125.80" stroke="#2c2c2c" stroke-width="1.0"/>
<polygon points="711.60,123.00 727.60,120.60 727.60,125.40" fill="#101010"/>
<line x1="711.60" y1="123.00" x2="827.50" y2="123.00" stroke="#2c2c2c" stroke-width="1.0"/>
<line x1="895.10" y1="123.00" x2="1004.80" y2="123.00" stroke="#2c2c2c" stroke-width="1.0"/>
<polygon points="1004.80,123.00 988.80,125.40 988.80,120.60" fill="#101010"/>
<line x1="1004.80" y1="118.70" x2="1004.80" y2="145.70" stroke="#2c2c2c" stroke-width="1.0"/>
<line x1="921.10" y1="167.50" x2="956.80" y2="167.50" stroke="#2c2c2c" stroke-width="1.0"/>
<polygon points="956.80,167.50 940.80,169.90 940.80,165.10" fill="#101010"/>
<line x1="956.80" y1="162.50" x2="956.80" y2="172.00" stroke="#2c2c2c" stroke-width="1.0"/>
<line x1="1053.00" y1="162.50" x2="1053.00" y2="172.00" stroke="#2c2c2c" stroke-width="1.0"/>
<polygon points="1053.00,167.50 1069.00,165.10 1069.00,169.90" fill="#101010"/>
<line x1="1053.00" y1="167.50" x2="1084.70" y2="167.50" stroke="#2c2c2c" stroke-width="1.0"/>
<g id="txt">
<circle cx="192.00" cy="168.20" r="8.20" fill="none" stroke="#2a2a2a" stroke-width="1.1"/>
<line x1="184.60" y1="176.30" x2="200.00" y2="160.00" stroke="#2a2a2a" stroke-width="1.1"/>
<text transform="translate(202.83,175.20) rotate(0.1) scale(0.8417,1)" font-size="23.0">2-3/8&quot;</text>
<circle cx="173.50" cy="189.20" r="8.20" fill="none" stroke="#2a2a2a" stroke-width="1.1"/>
<line x1="166.10" y1="197.30" x2="181.50" y2="181.00" stroke="#2a2a2a" stroke-width="1.1"/>
<text transform="translate(183.81,196.40) rotate(0.1) scale(0.8486,1)" font-size="23.0">1-1/4&quot;</text>
<circle cx="200.90" cy="211.60" r="8.20" fill="none" stroke="#2a2a2a" stroke-width="1.1"/>
<line x1="193.50" y1="219.70" x2="208.90" y2="203.40" stroke="#2a2a2a" stroke-width="1.1"/>
<text transform="translate(210.40,218.30) rotate(0.1) scale(0.8559,1)" font-size="23.0">1&quot;</text>
<text transform="translate(332.13,243.20) rotate(0.1) scale(0.8369,1)" font-size="23.0">5&quot;</text>
<text transform="translate(253.25,426.60) rotate(0.1) scale(0.8463,1)" font-size="23.0">8&quot;~ 36&quot;</text>
<text transform="translate(478.97,32.10) rotate(0.1) scale(0.8388,1)" font-size="23.0">3-1/16&quot;</text>
<text transform="translate(548.32,119.80) rotate(0.1) scale(0.8434,1)" font-size="23.0">2-3/8&quot;</text>
<text transform="translate(528.34,197.60) rotate(0.1) scale(0.8288,1)" font-size="23.0">2&quot;</text>
<text transform="translate(512.66,287.60) rotate(0.1) scale(0.8488,1)" font-size="23.0">3/4&quot; IPS Inlet</text>
<text transform="translate(605.36,95.30) rotate(0.1) scale(0.8445,1)" font-size="23.0">3-3/4&quot;</text>
<text transform="translate(650.52,122.70) rotate(0.1) scale(0.8451,1)" font-size="23.0">2-1/4&quot;</text>
<text transform="translate(835.06,131.00) rotate(0.1) scale(0.8360,1)" font-size="23.0">8-1/2&quot;</text>
<circle cx="849.90" cy="169.30" r="8.20" fill="none" stroke="#2a2a2a" stroke-width="1.1"/>
<line x1="842.50" y1="177.40" x2="857.90" y2="161.10" stroke="#2a2a2a" stroke-width="1.1"/>
<text transform="translate(861.03,175.50) rotate(0.1) scale(0.8417,1)" font-size="23.0">2-3/4&quot;</text>
</g>
</svg></body></html>
